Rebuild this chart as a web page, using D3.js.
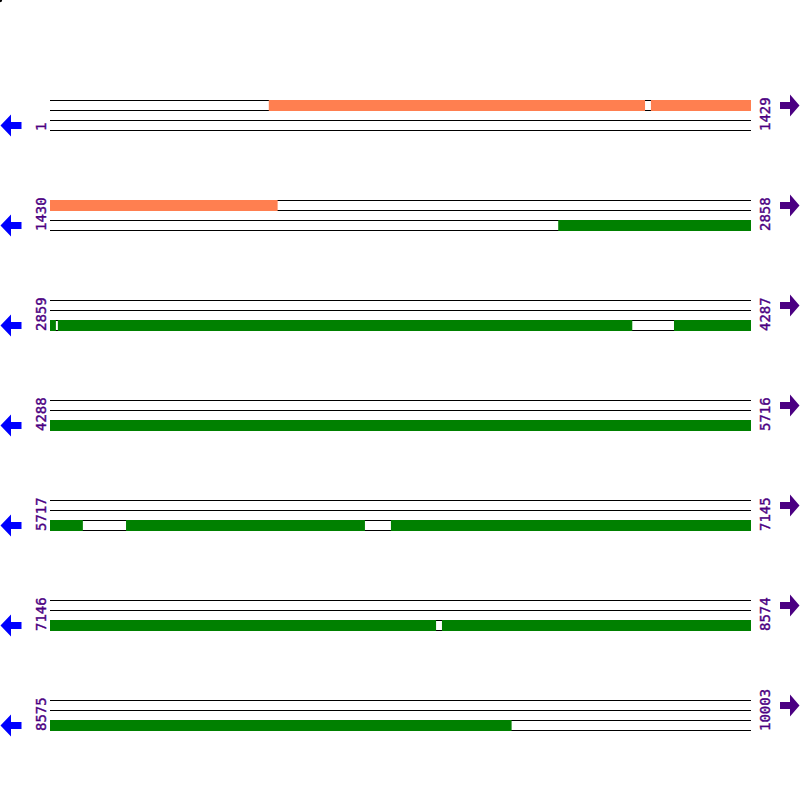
<!DOCTYPE html>
<html>
<head>
<meta charset="utf-8">
<script src="https://cdn.jsdelivr.net/npm/d3@7"></script>
<style>
  body { margin: 0; background: #fff; }
  svg { display: block; }
  .num { font-family: "DejaVu Sans Mono", monospace; font-size: 14px; fill: #4b0082; stroke: #4b0082; stroke-width: 0.4px; }
</style>
</head>
<body>
<svg id="chart" width="800" height="800"></svg>
<script>
// rows of the sequence map
var rowStarts = [1, 1430, 2859, 4288, 5717, 7146, 8575];
var rowEnds = [1429, 2858, 4287, 5716, 7145, 8574, 10003];

// features on the top track (orange)
var orangeStarts = [447, 1226];
var orangeEnds = [1213, 1893];

// features on the third track (green)
var greenStarts = [2466, 2875, 4131, 5872, 6412, 7945];
var greenEnds = [2870, 4045, 5783, 6358, 7932, 9515];

var svg = d3.select('#chart');

var left = 50, right = 751;
var top0 = 100, rowGap = 100, trackH = 10;

// little mark in the corner
svg.append('circle').attr('cx', 0).attr('cy', 0).attr('r', 2.2).attr('fill', '#000');

function drawSegments(g, x, s0, e0, starts, ends, track, color) {
    for (var i = 0; i < starts.length; i++) {
        var s = Math.max(starts[i], s0);
        var e = Math.min(ends[i], e0);
        if (s > e) continue;
        g.append('rect')
            .attr('x', x(s - 1))
            .attr('y', track * trackH)
            .attr('width', x(e) - x(s - 1))
            .attr('height', trackH + 1)
            .attr('fill', color);
    }
}

rowStarts.forEach(function (start, r) {
    var end = rowEnds[r];
    var y0 = top0 + r * rowGap;
    var x = d3.scaleLinear().domain([start - 1, end]).range([left, right]);

    var g = svg.append('g').attr('transform', 'translate(0,' + y0 + ')');

    // track lines
    [0, 1, 2, 3].forEach(function (k) {
        g.append('line')
            .attr('x1', left).attr('x2', right)
            .attr('y1', k * trackH + 0.5).attr('y2', k * trackH + 0.5)
            .attr('stroke', '#000').attr('stroke-width', 1);
    });

    drawSegments(g, x, start, end, orangeStarts, orangeEnds, 0, '#ff7f50');
    drawSegments(g, x, start, end, greenStarts, greenEnds, 2, '#008000');

    // position labels
    g.append('text').attr('class', 'num')
        .attr('transform', 'translate(46,31) rotate(-90)')
        .attr('text-anchor', 'start')
        .text(start);
    g.append('text').attr('class', 'num')
        .attr('transform', 'translate(770,31) rotate(-90)')
        .attr('text-anchor', 'start')
        .text(end);

    // strand arrows
    var cyL = 25.5;
    svg.append('polygon')
        .attr('points', [[0.5, y0 + cyL], [11, y0 + cyL - 11], [11, y0 + cyL - 3.5], [21.5, y0 + cyL - 3.5],
                         [21.5, y0 + cyL + 3.5], [11, y0 + cyL + 3.5], [11, y0 + cyL + 11]].join(' '))
        .attr('fill', '#0000ff');
    var cyR = 5.5;
    svg.append('polygon')
        .attr('points', [[799.5, y0 + cyR], [790, y0 + cyR - 11], [790, y0 + cyR - 3.5], [780, y0 + cyR - 3.5],
                         [780, y0 + cyR + 3.5], [790, y0 + cyR + 3.5], [790, y0 + cyR + 11]].join(' '))
        .attr('fill', '#4b0082');
});
</script>
</body>
</html>
